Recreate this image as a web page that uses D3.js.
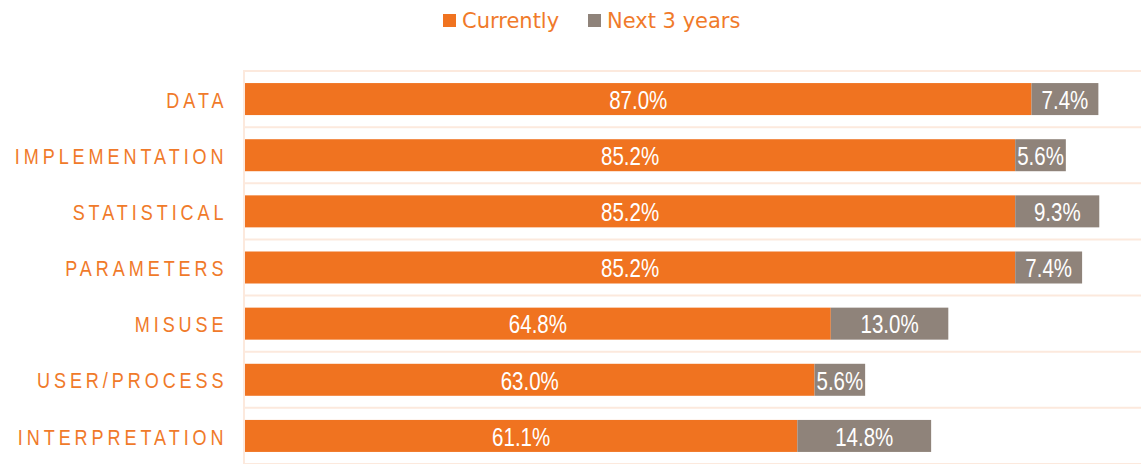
<!DOCTYPE html>
<html>
<head>
<meta charset="utf-8">
<script src="https://cdn.jsdelivr.net/npm/d3@7"></script>
<style>
  html, body { margin: 0; padding: 0; background: #ffffff; }
  svg { display: block; }
</style>
</head>
<body>
<svg id="chart" width="1141" height="464"></svg>
<script>
const categories = ["DATA", "IMPLEMENTATION", "STATISTICAL", "PARAMETERS", "MISUSE", "USER/PROCESS", "INTERPRETATION"];
const currently = [87.0, 85.2, 85.2, 85.2, 64.8, 63.0, 61.1];
const next3 = [7.4, 5.6, 9.3, 7.4, 13.0, 5.6, 14.8];
const seriesNames = ["Currently", "Next 3 years"];

const colors = { cur: "#F07320", next: "#8F837A", text: "#F07A2A", grid: "#FCE9DD" };

const svg = d3.select("#chart");
const W = 1141, H = 464;
const plotLeft = 245, plotTop = 71;
const narrow = 0.82;

const x = d3.scaleLinear().domain([0, 100]).range([plotLeft, plotLeft + 904]);
const y = d3.scaleBand().domain(categories).range([plotTop, H]).paddingInner(0.43).paddingOuter(0.215);

// gridlines at band boundaries
const step = y.step();
const bounds = d3.range(categories.length + 1).map(i => plotTop + i * step);
svg.append("g").selectAll("line").data(bounds).join("line")
  .attr("x1", plotLeft - 2).attr("x2", W)
  .attr("y1", d => d).attr("y2", d => d)
  .attr("stroke", colors.grid).attr("stroke-width", 2);
svg.append("line").attr("x1", plotLeft - 1).attr("x2", plotLeft - 1).attr("y1", plotTop).attr("y2", H)
  .attr("stroke", colors.grid).attr("stroke-width", 2);

const rows = categories.map((c, i) => ({ c, cur: currently[i], nx: next3[i] }));

const g = svg.append("g");
g.selectAll("rect.cur").data(rows).join("rect").attr("class", "cur")
  .attr("x", x(0)).attr("y", d => y(d.c))
  .attr("width", d => x(d.cur) - x(0)).attr("height", y.bandwidth())
  .attr("fill", colors.cur);
g.selectAll("rect.nx").data(rows).join("rect").attr("class", "nx")
  .attr("x", d => x(d.cur)).attr("y", d => y(d.c))
  .attr("width", d => x(d.cur + d.nx) - x(d.cur)).attr("height", y.bandwidth())
  .attr("fill", colors.next);

const labFont = "'Liberation Sans', Arial, sans-serif";
function valueLabels(cls, cx, val) {
  g.selectAll("g." + cls).data(rows).join("g").attr("class", cls)
    .attr("transform", d => `translate(${cx(d)},${y(d.c) + y.bandwidth() / 2 + 1}) scale(${narrow},1)`)
    .append("text")
    .attr("text-anchor", "middle").attr("dominant-baseline", "central")
    .attr("fill", "#fff").style("font-family", labFont).style("font-size", "25px")
    .text(d => val(d).toFixed(1) + "%");
}
valueLabels("lc", d => (x(0) + x(d.cur)) / 2, d => d.cur);
valueLabels("ln", d => (x(d.cur) + x(d.cur + d.nx)) / 2, d => d.nx);

// category labels
svg.append("g").selectAll("g").data(categories).join("g")
  .attr("transform", d => `translate(227.5,${y(d) + y.bandwidth() / 2 + 1}) scale(${narrow},1)`)
  .append("text")
  .attr("text-anchor", "end").attr("dominant-baseline", "central")
  .attr("fill", colors.text).style("font-family", labFont).style("font-size", "22px")
  .style("letter-spacing", "4.8px")
  .text(d => d);

// legend
const legend = svg.append("g");
const legItems = [{ n: seriesNames[0], c: colors.cur, x: 443 }, { n: seriesNames[1], c: colors.next, x: 588 }];
legItems.forEach(it => {
  legend.append("rect").attr("x", it.x).attr("y", 14).attr("width", 13).attr("height", 13).attr("fill", it.c);
  legend.append("text").attr("x", it.x + 19).attr("y", 20.5).attr("dominant-baseline", "central")
    .attr("fill", colors.text).style("font-family", "'DejaVu Sans', sans-serif").style("font-size", "21px")
    .text(it.n);
});
</script>
</body>
</html>
